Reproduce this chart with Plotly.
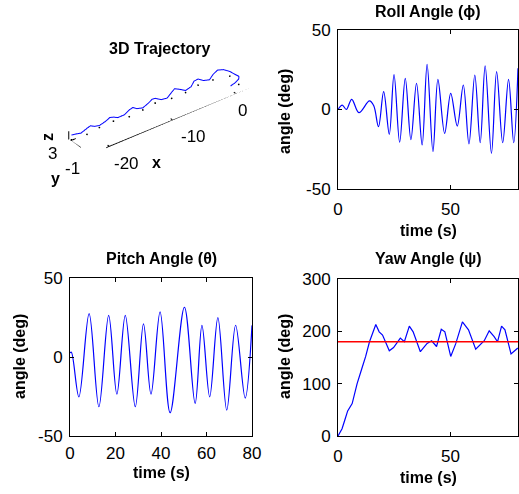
import plotly.graph_objects as go

# ---------------- data ----------------
roll_t = [0, 1.9, 3.7, 6.1, 9.3, 14.0, 15.9, 18.0, 20.3, 22.8, 24.9, 27.4, 29.9, 32.4,
          34.9, 37.4, 39.6, 42.2, 44.4, 47.4, 50.1, 53.0, 55.7, 58.2, 60.8, 63.2,
          65.4, 68.2, 70.5, 73.2, 75.8, 78.1, 80.0]
roll_deg = [0, 2.8, 0, 6.4, -2, 5.4, 2.3, -10.8, 11.2, -15.6, 22, -20.6, 19.6, -19,
            16.5, -22.3, 28.4, -26.5, 19, -15, 10.2, -10.4, 15.4, -21.7, 21.7, -20.9,
            27.4, -27.6, 23.8, -20.9, 19, -20.9, 26]

pitch_t = [0, 0.6, 3.9, 8.4, 12.7, 17.0, 20.6, 24.3, 28.7, 32.3, 35.6, 39.6, 44.0,
           50.3, 55.0, 58.0, 61.4, 65.0, 68.9, 72.8, 77.0, 80.0]
pitch_deg = [2.6, 3, -25.2, 27.5, -31.5, 26.4, -23.5, 26.4, -31.5, 21, -23.5, 28.5, -35.3,
             31.5, -29.4, 20, -25.2, 24.9, -33.6, 20.1, -26, 20]

yaw_t = [0, 1.8, 3.0, 4.3, 6.3, 8.5, 10.6, 12.3, 14.0, 16.8, 18.3, 19.8, 22.8, 24.7,
         27.7, 29.5, 31.7, 33.4, 36.6, 39.6, 41.6, 43.8, 45.9, 47.5, 50.1, 52.3, 55.3,
         58.0, 61.2, 65.0, 67.2, 69.4, 70.9, 72.7, 74.2, 76.9, 79.9]
yaw_deg = [0, 14, 30, 48, 62, 100, 129, 152, 180, 213, 199, 193, 163, 169,
           187, 180, 210, 199, 161, 177, 182, 171, 204, 199, 152, 176, 218,
           203, 166, 182, 201, 190, 180, 210, 203, 157, 168]

ref_t = [0, 80]
ref_yaw = [180, 180]

traj_x = [0.0, 0.8, 1.6, 2.1, 2.2, 1.9, 1.3, 0.5, -0.3, -1.0, -1.8, -2.5, -3.3, -4.0,
          -4.8, -5.5, -6.3, -7.0, -7.8, -8.5, -9.3, -10.0, -10.8, -11.5, -12.3, -13.0,
          -13.8, -14.5, -15.3, -16.0, -16.8, -17.5, -18.3, -19.0, -19.8, -20.5, -21.3,
          -22.0, -22.8]
traj_y = [0.0, 0.1, 0.4, 1.0, 1.8, 2.6, 3.1, 3.3, 3.2, 3.0, 3.2, 3.4, 3.2, 2.9,
          3.0, 3.3, 3.3, 3.0, 2.9, 3.2, 3.4, 3.1, 2.9, 3.1, 3.3, 3.2, 2.9, 3.0,
          3.3, 3.3, 3.0, 2.9, 3.2, 3.3, 3.1, 2.9, 3.1, 3.2, 3.1]
traj_z = [0.0, 0.1, 0.2, 0.1, -0.1, 0.1, 0.35, 0.5, 0.2, -0.2, -0.1, 0.3, 0.4, 0.0,
          -0.3, 0.0, 0.4, 0.3, -0.2, -0.3, 0.1, 0.4, 0.2, -0.3, -0.2, 0.3, 0.4, -0.1,
          -0.35, 0.0, 0.4, 0.2, -0.3, -0.2, 0.3, 0.3, -0.2, -0.1, 0.1]
floor_z = -0.6

x_ticks_roll = [0, 50]
x_ticks_pitch = [0, 20, 40, 60, 80]
y_ticks_angle = [-50, 0, 50]
y_ticks_yaw = [0, 100, 200, 300]
traj_x_ticks = [-20, -10, 0]
traj_y_ticks = [-1, 3]

# ---------------- figure ----------------
W, H = 519, 494
FONT = "Liberation Sans"
BLUE = "#0000ff"
TICK = 17
LAB = 16

XR = [-23, 2.5]
YR = [-1, 3.4]
ZR = [-0.6, 0.6]

fig = go.Figure()

# axis edges of the 3D box (MATLAB style: front x edge, left y edge, z edge)
edge_x = [XR[1], XR[0], XR[0], XR[0]]
edge_y = [YR[0], YR[0], YR[1], YR[1]]
edge_z = [ZR[0], ZR[0], ZR[0], ZR[1]]
tk_x, tk_y, tk_z = [], [], []
for v in traj_x_ticks:
    tk_x += [v, v, None]
    tk_y += [YR[0], YR[0] + 0.35, None]
    tk_z += [ZR[0], ZR[0], None]
for v in traj_y_ticks:
    tk_x += [XR[0], XR[0] + 0.8, None]
    tk_y += [v, v, None]
    tk_z += [ZR[0], ZR[0], None]

fig.add_trace(go.Scatter3d(x=edge_x, y=edge_y, z=edge_z, mode="lines",
                           line=dict(color="black", width=2), showlegend=False, scene="scene",
                           hoverinfo="skip"))
fig.add_trace(go.Scatter3d(x=tk_x, y=tk_y, z=tk_z, mode="lines",
                           line=dict(color="black", width=2), showlegend=False, scene="scene",
                           hoverinfo="skip"))
fig.add_trace(go.Scatter3d(x=traj_x, y=traj_y, z=traj_z, mode="lines",
                           line=dict(color=BLUE, width=2), showlegend=False, scene="scene"))
fig.add_trace(go.Scatter3d(x=traj_x[2::3], y=traj_y[2::3], z=[floor_z] * len(traj_x[2::3]),
                           mode="markers", marker=dict(color="black", size=1),
                           showlegend=False, scene="scene"))

fig.add_trace(go.Scatter(x=roll_t, y=roll_deg, mode="lines", line=dict(color=BLUE, width=1.2, shape="spline"),
                         xaxis="x", yaxis="y", showlegend=False))
fig.add_trace(go.Scatter(x=pitch_t, y=pitch_deg, mode="lines", line=dict(color=BLUE, width=1.2, shape="spline"),
                         xaxis="x2", yaxis="y2", showlegend=False))
fig.add_trace(go.Scatter(x=yaw_t, y=yaw_deg, mode="lines", line=dict(color=BLUE, width=1.2),
                         xaxis="x3", yaxis="y3", showlegend=False))
fig.add_trace(go.Scatter(x=ref_t, y=ref_yaw, mode="lines", line=dict(color="#ff0000", width=1.5),
                         xaxis="x3", yaxis="y3", showlegend=False))


def px(v):
    return v / W


def py(v):
    return 1 - v / H


def ax(dom, rng, ticks, anchor, labels=None, standoff=3):
    return dict(domain=dom, range=rng, tickvals=ticks,
                ticktext=labels if labels else [str(t) for t in ticks],
                showline=True, linecolor="black", linewidth=1, mirror="ticks",
                ticks="inside", ticklen=4, tickcolor="black", showgrid=False,
                zeroline=False, anchor=anchor, fixedrange=True, automargin=False,
                ticklabelstandoff=standoff,
                tickfont=dict(family=FONT, size=TICK, color="black"))


roll_xd = [px(338), px(518)]
roll_yd = [py(189), py(30)]
pitch_xd = [px(70), px(252)]
pitch_yd = [py(436), py(278)]
yaw_xd = [px(338), px(518)]
yaw_yd = [py(436), py(279)]

ang_labels = ["-50", "0", "50"]

axis3 = dict(showbackground=False, showgrid=False, zeroline=False, showspikes=False,
             showline=False, ticks="", showticklabels=False, title=dict(text=""))

scene_ann = []


def s_text(x, y, z, s, dx, dy, bold=False, angle=0):
    scene_ann.append(dict(x=x, y=y, z=z, text=f"<b>{s}</b>" if bold else s, showarrow=False,
                          xanchor="center", yanchor="middle", xshift=dx, yshift=dy,
                          textangle=angle, font=dict(family=FONT, size=TICK if not bold else LAB,
                                                     color="black")))


for v, dx in zip(traj_x_ticks, [17, 21, 7]):
    s_text(v, YR[0], ZR[0], str(v), dx, -17)
s_text(-16, YR[0], ZR[0], "x", 22, -27, bold=True)
s_text(XR[0], traj_y_ticks[0], ZR[0], str(traj_y_ticks[0]), -18, -14)
s_text(XR[0], traj_y_ticks[1], ZR[0], str(traj_y_ticks[1]), -18, -13)
s_text(XR[0], 1, ZR[0], "y", -25, -31, bold=True)
s_text(XR[0], YR[1], 0, "z", -21, -2, bold=True, angle=-90)

S = 4.0
fig.update_layout(
    width=W, height=H, margin=dict(l=0, r=0, t=0, b=0, autoexpand=False),
    paper_bgcolor="white", plot_bgcolor="white",
    xaxis=ax(roll_xd, [0, 80], x_ticks_roll, "y", standoff=5),
    yaxis=ax(roll_yd, [-50, 50], y_ticks_angle, "x", ang_labels),
    xaxis2=ax(pitch_xd, [0, 80], x_ticks_pitch, "y2", standoff=2),
    yaxis2=ax(pitch_yd, [-50, 50], y_ticks_angle, "x2", ang_labels),
    xaxis3=ax(yaw_xd, [0, 80], x_ticks_roll, "y3", standoff=5),
    yaxis3=ax(yaw_yd, [0, 300], y_ticks_yaw, "x3"),
    scene=dict(
        domain=dict(x=[px(50), px(270)], y=[py(160), py(58)]),
        xaxis=dict(axis3, range=XR),
        yaxis=dict(axis3, range=YR),
        zaxis=dict(axis3, range=ZR),
        aspectmode="manual",
        aspectratio=dict(x=S, y=S * (YR[1] - YR[0]) / (XR[1] - XR[0]),
                         z=S * (ZR[1] - ZR[0]) / (XR[1] - XR[0])),
        camera=dict(eye=dict(x=-0.53, y=-0.68, z=0.55), up=dict(x=0, y=0, z=1),
                    center=dict(x=0, y=0, z=0), projection=dict(type="orthographic")),
        bgcolor="white",
        annotations=scene_ann,
    ),
)

ann = []


def text(x, y, s, bold=True, angle=0, size=LAB):
    ann.append(dict(x=x, y=y, xref="paper", yref="paper", text=f"<b>{s}</b>" if bold else s,
                    showarrow=False, textangle=angle, xanchor="center", yanchor="middle",
                    font=dict(family=FONT, size=size, color="black")))


text(px(159), py(49), "3D Trajectory")
text(px(428), py(11), "Roll Angle (ϕ)")
text(px(161), py(258), "Pitch Angle (θ)")
text(px(428), py(258), "Yaw Angle (ψ)")
text(px(428), py(230), "time (s)")
text(px(161), py(472), "time (s)")
text(px(428), py(477), "time (s)")
text(px(284), py(112), "angle (deg)", angle=-90)
text(px(19), py(357), "angle (deg)", angle=-90)
text(px(284), py(357), "angle (deg)", angle=-90)

fig.update_layout(annotations=ann)

fig.write_html("out.html")
